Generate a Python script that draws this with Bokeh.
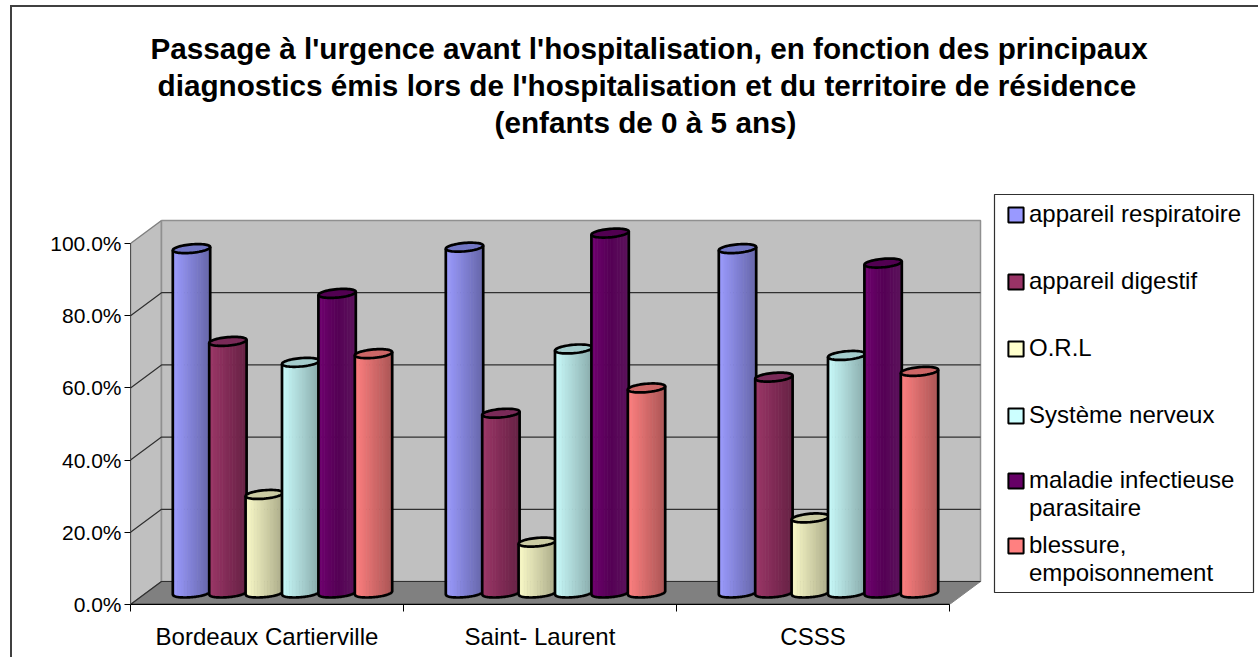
import numpy as np
from bokeh.plotting import figure
from bokeh.models import (Range1d, FixedTicker, PrintfTickFormatter, Legend, LegendItem, Title)
from bokeh.embed import file_html
from bokeh.resources import INLINE

title_lines = ["Passage à l'urgence avant l'hospitalisation, en fonction des principaux",
               "diagnostics émis lors de l'hospitalisation et du territoire de résidence",
               "(enfants de 0 à 5 ans)"]
categories = ["Bordeaux Cartierville", "Saint- Laurent", "CSSS"]
series_names = ["appareil respiratoire", "appareil digestif", "O.R.L", "Système nerveux",
                "maladie infectieuse\nparasitaire", "blessure,\nempoisonnement"]
appareil_respiratoire = [95.4, 95.8, 95.4]
appareil_digestif = [69.7, 49.8, 59.8]
orl = [27.3, 14.1, 20.8]
systeme_nerveux = [63.9, 67.6, 65.8]
maladie_infectieuse = [83.0, 99.7, 91.4]
blessure = [66.3, 56.8, 61.4]
series_values = [appareil_respiratoire, appareil_digestif, orl, systeme_nerveux, maladie_infectieuse, blessure]
y_ticks = [0, 20, 40, 60, 80, 100]

swatch = ["#9999FF", "#993366", "#FFFFCC", "#CCFFFF", "#660066", "#FF8080"]
left_c = [(0x9C, 0x9C, 0xFF), (0x9C, 0x38, 0x68), (0xFA, 0xFA, 0xC8), (0xC8, 0xFA, 0xFA), (0x70, 0x00, 0x70), (0xFF, 0x80, 0x80)]
mid_c = [(0x80, 0x80, 0xD4), (0x80, 0x2A, 0x55), (0xD4, 0xD4, 0xAA), (0xAA, 0xD4, 0xD4), (0x55, 0x00, 0x55), (0xD4, 0x6A, 0x6A)]
right_c = [(0x66, 0x66, 0xA8), (0x66, 0x22, 0x44), (0xAA, 0xAA, 0x88), (0x88, 0xAA, 0xAA), (0x5C, 0x14, 0x5C), (0xAA, 0x55, 0x55)]
top_c = ["#7276C4", "#7A2A58", "#CCCCA4", "#A4CCCC", "#520052", "#CC6666"]

PX_X = 1 / 273.0          # data units per horizontal pixel
PX_Y = 1 / 3.61           # data units per vertical pixel
DEPTH_X = 31 * PX_X
DEPTH_Y = 23 * PX_Y
FW, FH = 1128, 465
p = figure(width=1248, height=652, output_backend="svg", toolbar_location=None,
           x_range=Range1d(0, FW * PX_X), y_range=Range1d(0, FH * PX_Y),
           frame_width=FW, frame_height=FH, title=None,
           min_border_left=118, min_border_right=0, min_border_top=0, min_border_bottom=53,
           outline_line_color=None, background_fill_color="white", border_fill_color="white")
p.styles = {"position": "absolute", "left": "10px", "top": "5px", "padding-top": "21px",
            "border-top": "2px solid #404040", "border-left": "2px solid #404040"}
p.grid.visible = False

title_offsets = [20, 27, 364]
for line, off in reversed(list(zip(title_lines, title_offsets))):
    p.add_layout(Title(text=line, align="left", text_font="Liberation Sans", text_font_size="29.7px",
                       text_font_style="bold", text_color="black", offset=off, standoff=2), "above")

# walls, floor
nc = len(categories)
p.patch([0, DEPTH_X, DEPTH_X, 0], [0, DEPTH_Y, 100 + DEPTH_Y, 100], fill_color="#C0C0C0", line_color="#808080", line_width=1.5)
p.patch([DEPTH_X, nc + DEPTH_X, nc + DEPTH_X, DEPTH_X], [DEPTH_Y, DEPTH_Y, 100 + DEPTH_Y, 100 + DEPTH_Y],
        fill_color="#C0C0C0", line_color="#909090", line_width=1.5)
p.patch([0, nc, nc + DEPTH_X, DEPTH_X], [0, 0, DEPTH_Y, DEPTH_Y], fill_color="#808080", line_color="#808080", line_width=1)
for t in y_ticks[:-1]:
    p.line([0, DEPTH_X, nc + DEPTH_X], [t, t + DEPTH_Y, t + DEPTH_Y], line_color="#303030", line_width=1.2)
p.line([0, nc], [0, 0], line_color="black", line_width=1.5)

# cylinders
spacing = 36.4 * PX_X
rx = 18.7 * PX_X
hh = 4.2 * PX_Y
tilt = 1.6 * PX_Y
base = DEPTH_Y / 2
n = 26


def mix(a, b, f):
    return tuple(int(round(a[k] + (b[k] - a[k]) * f)) for k in range(3))


for j, vals in enumerate(series_values):
    for i, v0 in enumerate(vals):
        v = v0 + base
        cx = i + 0.5 + DEPTH_X / 2 + (j - 2.5) * spacing
        us = np.linspace(-1, 1, n + 1)
        xs, ys, cols = [], [], []
        bot = lambda u: base - hh * np.sqrt(max(0, 1 - u * u)) + tilt * u
        for a, b in zip(us[:-1], us[1:]):
            b2 = min(1, b + 0.03)
            xs.append([cx + a * rx, cx + b2 * rx, cx + b2 * rx, cx + a * rx])
            ys.append([v + tilt * a, v + tilt * b2, bot(b2), bot(a)])
            m = (a + b) / 2
            if m < 0:
                c = mix(left_c[j], mid_c[j], m + 1)
            else:
                c = mix(mid_c[j], right_c[j], m)
            cols.append("#%02x%02x%02x" % c)
        p.patches(xs, ys, fill_color=cols, line_color=None)
        ua = np.linspace(-1, 1, 41)
        ox = [cx - rx] + list(cx + ua * rx) + [cx + rx]
        oy = [v - tilt] + [bot(u) for u in ua] + [v + tilt]
        p.line(ox, oy, line_color="black", line_width=2.7)
        th = np.linspace(0, 2 * np.pi, 61)
        p.patch(cx + rx * np.cos(th), v + tilt * np.cos(th) + hh * np.sin(th),
                fill_color=top_c[j], line_color="black", line_width=2.7)

# axes
p.yaxis.bounds = (0, 100)
p.yaxis.ticker = FixedTicker(ticks=y_ticks)
p.yaxis.formatter = PrintfTickFormatter(format="%.1f%%")
p.yaxis.axis_line_color = "#505050"
p.yaxis.major_tick_line_color = "black"
p.yaxis.major_tick_out = 6
p.yaxis.major_tick_in = 0
p.yaxis.minor_tick_line_color = None
p.yaxis.major_label_text_font = "Liberation Sans"
p.yaxis.major_label_text_font_size = "21px"
p.yaxis.major_label_text_color = "black"
p.yaxis.major_label_standoff = 3

p.xaxis.bounds = (0, nc)
p.xaxis.ticker = FixedTicker(ticks=[k + 0.5 for k in range(nc)], minor_ticks=list(range(nc + 1)))
p.xaxis.major_label_overrides = {k + 0.5: c for k, c in enumerate(categories)}
p.xaxis.axis_line_color = "black"
p.xaxis.major_tick_line_color = None
p.xaxis.major_tick_out = 0
p.xaxis.minor_tick_line_color = "black"
p.xaxis.minor_tick_out = 7
p.xaxis.minor_tick_in = 0
p.xaxis.major_label_text_font = "Liberation Sans"
p.xaxis.major_label_text_font_size = "24px"
p.xaxis.major_label_text_color = "black"
p.xaxis.major_label_standoff = 11

# legend box, then legends drawn inside it
BOX_L, BOX_R, BOX_T, BOX_B = 864, 1123, 410, 12   # pixels from the frame's bottom-left corner
p.quad(left=[BOX_L * PX_X], right=[BOX_R * PX_X], top=[BOX_T * PX_Y], bottom=[BOX_B * PX_Y],
       fill_color="white", line_color="#303030", line_width=1.2)

blank = p.quad(left=[np.nan], right=[np.nan], top=[np.nan], bottom=[np.nan], fill_alpha=0, line_alpha=0)
swatches = []
for j in range(len(series_names)):
    swatches.append(p.quad(left=[np.nan], right=[np.nan], top=[np.nan], bottom=[np.nan],
                           fill_color=swatch[j], line_color="black", line_width=2))


def make_legend(rows, y, gap):
    items = []
    for j in rows:
        parts = series_names[j].split("\n")
        items.append(LegendItem(label=parts[0], renderers=[swatches[j]]))
        for extra in parts[1:]:
            items.append(LegendItem(label=extra, renderers=[blank]))
    lg = Legend(items=items, location=(876, y), orientation="vertical", glyph_width=19, glyph_height=19,
                label_text_font="Liberation Sans", label_text_font_size="24px", label_text_color="black",
                label_text_line_height=1.12, spacing=gap, padding=0, margin=0, border_line_color=None,
                background_fill_alpha=0, label_standoff=4)
    p.add_layout(lg, "center")


make_legend([0, 1, 2, 3], 175, 39)
make_legend([4], 82, -1)
make_legend([5], 17, -1)

open("out.html", "w").write(file_html(p, INLINE))
